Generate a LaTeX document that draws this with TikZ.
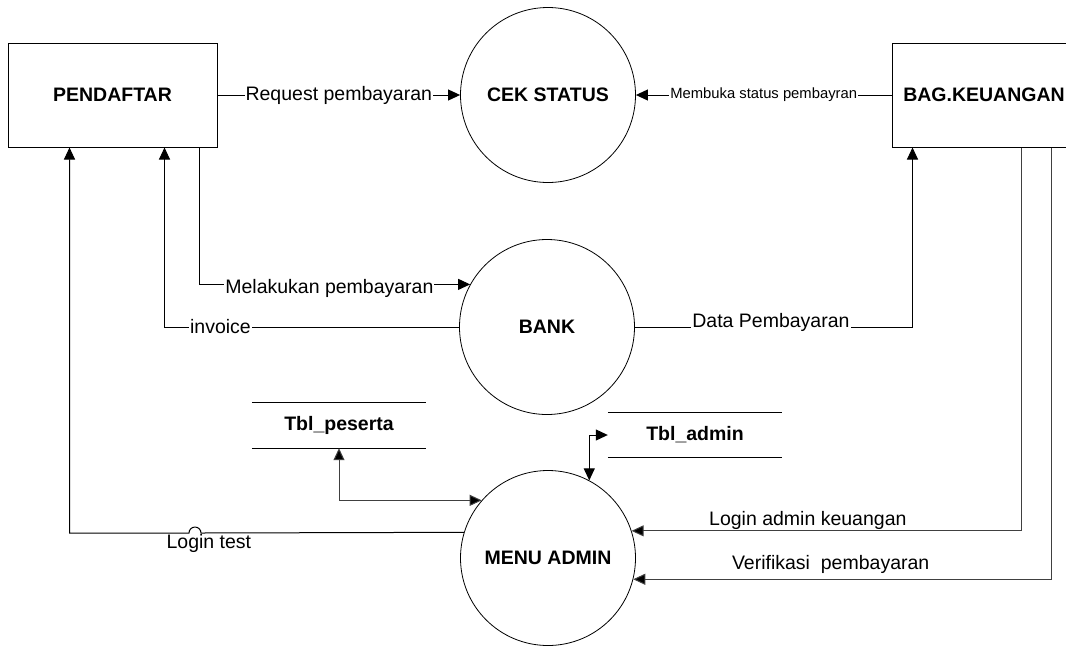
\documentclass[tikz,border=0pt]{standalone}
\usepackage{fontspec}
\setmainfont{Liberation Sans}
\usetikzlibrary{arrows.meta,calc}
\tikzset{
  big/.style={font=\fontsize{19.5}{22}\selectfont},
  bigb/.style={font=\bfseries\fontsize{19.5}{22}\selectfont},
  ent/.style={draw, line width=1pt, minimum height=104pt, bigb},
  proc/.style={draw, circle, line width=0.8pt, minimum size=175pt, inner sep=0pt, bigb},
  store/.style={minimum width=174pt, minimum height=45pt, inner sep=0pt, bigb},
  flow/.style={line width=1pt, -{Triangle[length=12pt,width=11pt]}},
  biflow/.style={line width=1pt, {Triangle[length=12pt,width=11pt]}-{Triangle[length=12pt,width=11pt]}},
  lbl/.style={fill=white, text=black, inner sep=1pt, big},
  lbls/.style={fill=white, text=black, inner sep=1pt, font=\fontsize{14.8}{17}\selectfont},
  lbln/.style={inner sep=1pt, text=black, big},
  grayline/.style={draw=black!75, fill=black!75},
}
\begin{document}
\begin{tikzpicture}[x=1pt,y=-1pt]
\useasboundingbox (0,0) rectangle (1066,649);
% entities
\node[ent, minimum width=209pt] (pend) at (112.5,95) {PENDAFTAR};
\node[ent, minimum width=184pt] (bag) at (984,95) {BAG.KEUANGAN};
% processes
\node[proc] (cek) at (548,95) {CEK STATUS};
\node[proc] (bank) at (547,327) {BANK};
\node[proc] (menu) at (548,558) {MENU ADMIN};
% stores
\node[store] (tp) at (339,425.5) {Tbl\_peserta};
\node[store] (ta) at (695,435) {Tbl\_admin};
\draw[line width=0.8pt] (tp.north west) -- (tp.north east) (tp.south west) -- (tp.south east);
\draw[line width=0.8pt] (ta.north west) -- (ta.north east) (ta.south west) -- (ta.south east);
% flows
\draw[flow] (pend.east) -- node[lbl] {Request pembayaran} (cek.west);
\draw[flow] (bag.west) -- node[lbls] {Membuka status pembayran} (cek.east);
\draw[flow] ([xshift=192pt]pend.south west) |- node[lbl, pos=0.74, yshift=-4pt] {Melakukan pembayaran} (bank.151.5);
\draw[flow] (bank.west) -| node[lbl, pos=0.405] {invoice} ([xshift=157pt]pend.south west);
\draw[flow] (bank.east) -| node[lbl, pos=0.245, yshift=5pt] {Data Pembayaran} ([xshift=21pt]bag.south west);
\draw[flow, draw=black!75, -{Triangle[length=12pt,width=11pt,fill=black]}] ([xshift=130pt]bag.south west) |- node[lbln, pos=0.774, above] {Login admin keuangan} (menu.18.5);
\draw[flow, draw=black!75, -{Triangle[length=12pt,width=11pt,fill=black]}] ([xshift=160pt]bag.south west) |- node[lbln, pos=0.764, above, yshift=4pt] {Verifikasi\ \ pembayaran} (menu.-14.5);
\draw[biflow, draw=black!75, {Triangle[length=12pt,width=11pt,fill=black]}-{Triangle[length=12pt,width=11pt,fill=black]}] (menu.139) -| (tp.south);
\draw[biflow] (menu.62.5) |- (ta.west);
\coordinate (hop) at (195,533);
\draw[flow] (menu.163.5) -- node[lbln, pos=0.97, below] {Login test} ([xshift=6pt]hop)
  arc[start angle=0, end angle=180, radius=6pt] -| ([xshift=62pt]pend.south west);
\end{tikzpicture}
\end{document}
